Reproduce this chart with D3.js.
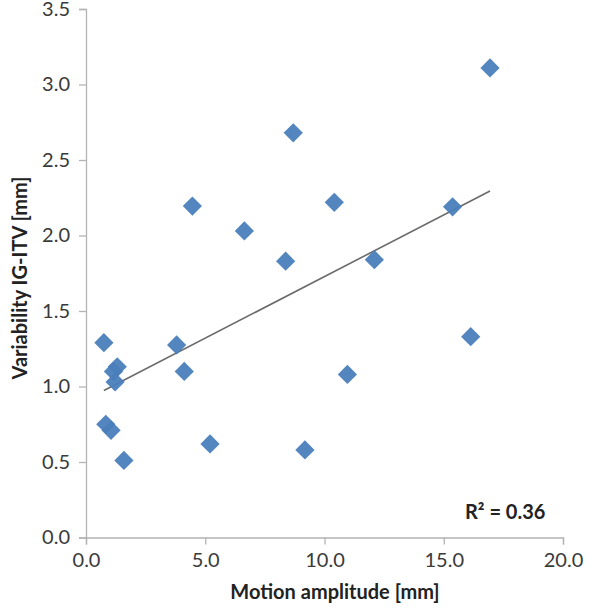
<!DOCTYPE html>
<html>
<head>
<meta charset="utf-8">
<script src="https://cdn.jsdelivr.net/npm/d3@7"></script>
<style>
  body { margin: 0; background: #fff; }
  svg { display: block; }
</style>
</head>
<body>
<svg id="chart" width="600" height="608"></svg>
<script>
// Data
const motionAmplitude = [0.75, 1.31, 1.15, 1.22, 0.83, 1.05, 1.59, 3.80, 4.12, 5.20, 8.69, 4.46, 6.64, 10.41, 8.37, 12.09, 10.96, 9.18, 16.94, 15.37, 16.13];
const variabilityIGITV = [1.29, 1.13, 1.10, 1.03, 0.75, 0.71, 0.51, 1.275, 1.10, 0.62, 2.68, 2.195, 2.03, 2.22, 1.83, 1.84, 1.08, 0.58, 3.11, 2.19, 1.33];
const xTicks = [0, 5, 10, 15, 20];
const yTicks = [0, 0.5, 1.0, 1.5, 2.0, 2.5, 3.0, 3.5];
const xTitle = "Motion amplitude [mm]";
const yTitle = "Variability IG-ITV [mm]";
const r2Label = "R² = 0.36";

(function () {
const svg = d3.select("#chart");
const mLeft = 86, mRight = 563, mTop = 9, mBottom = 537.5;
const x = d3.scaleLinear().domain([0, 20]).range([mLeft, mRight]);
const y = d3.scaleLinear().domain([0, 3.5]).range([mBottom, mTop]);
const font = "Lato, 'Open Sans', sans-serif";
const axisColor = "#b3b3b3";

// X axis
const xAxis = svg.append("g")
  .attr("transform", `translate(0,${mBottom})`)
  .call(d3.axisBottom(x).tickValues(xTicks).tickFormat(d3.format(".1f")).tickSize(7).tickPadding(8));
// Y axis
const yAxis = svg.append("g")
  .attr("transform", `translate(${mLeft},0)`)
  .call(d3.axisLeft(y).tickValues(yTicks).tickFormat(d3.format(".1f")).tickSize(7).tickPadding(9));

[xAxis, yAxis].forEach(g => {
  g.select(".domain").attr("stroke", axisColor).attr("stroke-width", 1.3);
  g.selectAll(".tick line").attr("stroke", axisColor).attr("stroke-width", 1.3);
  g.selectAll(".tick text").attr("fill", "#3a3a3a").style("font-family", font).style("font-size", "20px");
});

// Trend line (least squares over the data, spanning data x range)
const pts = motionAmplitude.map((v, i) => [v, variabilityIGITV[i]]);
const mx = d3.mean(motionAmplitude), my = d3.mean(variabilityIGITV);
const slope = d3.sum(pts, p => (p[0] - mx) * (p[1] - my)) / d3.sum(pts, p => (p[0] - mx) ** 2);
const intercept = my - slope * mx;
const [xmin, xmax] = d3.extent(motionAmplitude);
svg.append("line")
  .attr("x1", x(xmin)).attr("y1", y(intercept + slope * xmin))
  .attr("x2", x(xmax)).attr("y2", y(intercept + slope * xmax))
  .attr("stroke", "#6b6b6b").attr("stroke-width", 1.6);

// Diamonds
const diamond = d3.symbol().type(d3.symbolSquare).size(185);
svg.append("g").selectAll("path")
  .data(pts)
  .join("path")
  .attr("d", diamond)
  .attr("transform", d => `translate(${x(d[0])},${y(d[1])}) rotate(45)`)
  .attr("fill", "#4a7ebb")
  .attr("fill-opacity", 0.95);

// Axis titles
svg.append("text")
  .attr("x", 335).attr("y", 599)
  .attr("text-anchor", "middle")
  .style("font-family", font).style("font-size", "20px").style("font-weight", "bold")
  .attr("fill", "#222")
  .text(xTitle);
svg.append("text")
  .attr("transform", "translate(27,278) rotate(-90)")
  .attr("text-anchor", "middle")
  .style("font-family", font).style("font-size", "20px").style("font-weight", "bold")
  .attr("fill", "#222")
  .text(yTitle);

// R² label
svg.append("text")
  .attr("x", 465).attr("y", 519)
  .style("font-family", font).style("font-size", "20px").style("font-weight", "bold")
  .attr("fill", "#222")
  .text(r2Label);
})();
</script>
</body>
</html>
